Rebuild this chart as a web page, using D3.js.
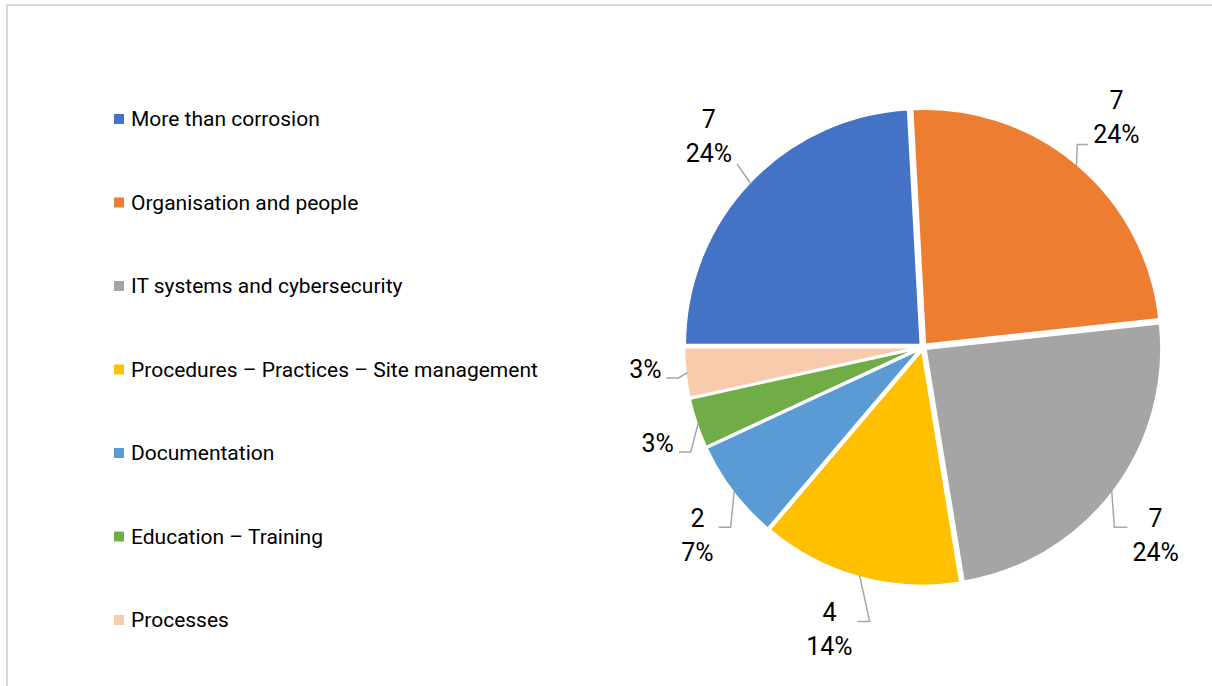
<!DOCTYPE html>
<html>
<head>
<meta charset="utf-8">
<script src="https://cdn.jsdelivr.net/npm/d3@7"></script>
<style>
  body { margin: 0; background: #fff; }
  svg text { font-family: Roboto, "Liberation Sans", sans-serif; fill: #000; }
</style>
</head>
<body>
<div id="chart"></div>
<script>
// data
const categories = ["More than corrosion", "Organisation and people", "IT systems and cybersecurity",
  "Procedures - Practices - Site management", "Documentation", "Education - Training", "Processes"];
const counts = [7, 7, 7, 4, 2, 1, 1];
const colors = ["#4472C4", "#ED7D31", "#A5A5A5", "#FFC000", "#5B9BD5", "#70AD47", "#F8CBAD"];
const showCount = [true, true, true, true, true, false, false];

const width = 1212, height = 686;
const cx = 923, cy = 347, radius = 236;

const svg = d3.select("#chart").append("svg")
    .attr("width", width)
    .attr("height", height);

// outer frame (only left/top visible)
svg.append("rect")
    .attr("x", 7).attr("y", 5)
    .attr("width", 1230).attr("height", 720)
    .attr("fill", "none")
    .attr("stroke", "#d9d9d9")
    .attr("stroke-width", 2);

// legend
const legendY = d3.scalePoint()
    .domain(categories)
    .range([119, 620]);

const legend = svg.append("g").attr("class", "legend");
const items = legend.selectAll("g")
    .data(categories)
    .enter()
    .append("g")
    .attr("transform", d => `translate(114, ${legendY(d)})`);

items.append("rect")
    .attr("x", 0).attr("y", -5)
    .attr("width", 10).attr("height", 10)
    .attr("fill", (d, i) => colors[i]);

items.append("text")
    .attr("x", 17)
    .attr("dy", "0.35em")
    .style("font-size", "21px")
    .text(d => d.replace(/ - /g, " \u2013 "));

// pie
const total = d3.sum(counts);
const pie = d3.pie()
    .sort(null)
    .startAngle(-Math.PI / 2)
    .endAngle(Math.PI * 1.5);

const arcs = pie(counts);
const arc = d3.arc().innerRadius(0).outerRadius(radius);

const g = svg.append("g").attr("transform", `translate(${cx}, ${cy})`);

const explode = 3;
g.selectAll(".slice")
    .data(arcs)
    .enter()
    .append("path")
    .attr("class", "slice")
    .attr("d", arc)
    .attr("transform", d => {
        const a = (d.startAngle + d.endAngle) / 2;
        return `translate(${explode * Math.sin(a)}, ${-explode * Math.cos(a)})`;
    })
    .attr("fill", (d, i) => colors[i])
    .attr("stroke", "#fff")
    .attr("stroke-width", 2.5);

// labels: the box corner nearest the pie sits on a ring outside it
const fmt = d3.format(".0%");
const ringR = 263;
const lineH = 34;

arcs.forEach((d, i) => {
    const a = (d.startAngle + d.endAngle) / 2;
    const s = Math.sin(a), c = Math.cos(a);
    const px = ringR * s, py = -ringR * c;
    const lines = showCount[i] ? [String(d.data), fmt(d.data / total)] : [fmt(d.data / total)];

    const t = g.append("text")
        .attr("text-anchor", "middle")
        .style("font-size", "25px");
    lines.forEach((str, k) => {
        t.append("tspan")
            .attr("x", 0)
            .attr("y", k * lineH)
            .attr("dy", "0.35em")
            .text(str);
    });
    const bb = t.node().getBBox();
    const hw = bb.width / 2, hh = bb.height / 2 - 2;

    // box centre
    const bx = px + (s > 0 ? hw : -hw);
    const by = Math.abs(c) < 0.3 ? py - 6 : py + (c > 0 ? -hh : hh);
    t.attr("transform", `translate(${bx - (bb.x + bb.width / 2)}, ${by - (bb.y + bb.height / 2)})`);

    const left = bx - hw, right = bx + hw, top = by - hh, bottom = by + hh;

    // leader line
    const ex = (radius + 1) * s;
    const ey = -(radius + 1) * c;
    let pts;
    if (c > 0.5) {
        const yl = bottom - 2;
        if (s > 0) {
            const x2 = left - 5;
            pts = [[ex, ey], [x2 - 11, yl], [x2, yl]];
        } else {
            pts = [[ex, ey], [right + 5, yl]];
        }
    } else {
        const yl = top + 21;
        const x2 = s > 0 ? left - 5 : right + 5;
        const x1 = s > 0 ? x2 - 13 : x2 + 12;
        pts = [[ex, ey], [x1, yl], [x2, yl]];
    }
    g.append("path")
        .attr("d", d3.line()(pts))
        .attr("fill", "none")
        .attr("stroke", "#a6a6a6")
        .attr("stroke-width", 1.5);
});
</script>
</body>
</html>
